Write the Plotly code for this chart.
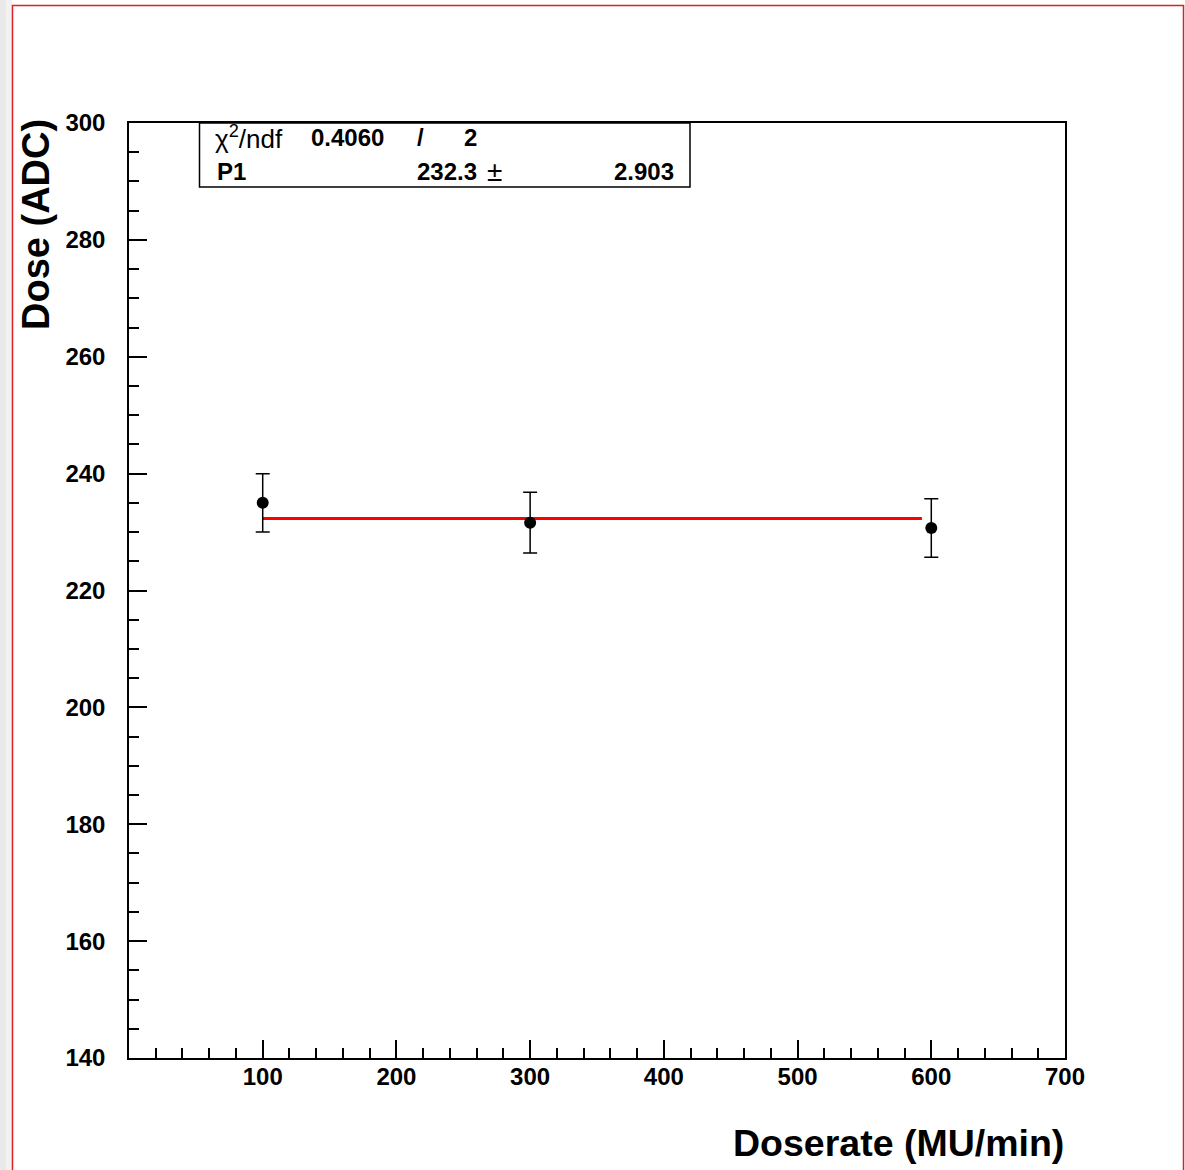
import plotly.graph_objects as go

# ---- data ----
doserate = [100, 300, 600]
dose = [235.0, 231.6, 230.7]
dose_err = [5.0, 5.2, 5.0]
fit_x = [100, 593]
fit_p1 = 232.3
fit_p1_err = 2.903
chi2 = 0.4060
ndf = 2
x_ticks = [100, 200, 300, 400, 500, 600, 700]
y_ticks = [140, 160, 180, 200, 220, 240, 260, 280, 300]

W, H = 1185, 1170
L, R, T, B = 129, 1065, 123, 1058  # plot area in px


def px(x):
    return (x - L) / (R - L)


def py(y):
    return (B - y) / (B - T)


FONT = "Liberation Sans, Arial, Helvetica, sans-serif"

fig = go.Figure()
fig.add_trace(go.Scatter(
    x=fit_x, y=[fit_p1] * len(fit_x), mode="lines",
    line=dict(color="#ff0000", width=3), showlegend=False, hoverinfo="skip"))
fig.add_trace(go.Scatter(
    x=doserate, y=dose, mode="markers",
    marker=dict(color="black", size=12, symbol="circle"),
    error_y=dict(type="data", array=dose_err, visible=True, color="black",
                 thickness=1.5, width=7),
    showlegend=False))

axis_common = dict(
    showgrid=False, zeroline=False, showline=True, linecolor="black",
    linewidth=1.5, mirror=True, ticks="inside", ticklen=18, tickwidth=1.5,
    tickcolor="black",
    tickfont=dict(family=FONT, size=24, color="black", weight="bold"),
)

fig.update_xaxes(range=[0, 700], tickvals=x_ticks, ticklabelstandoff=-4,
                 minor=dict(ticks="inside", ticklen=10, dtick=20, tick0=0,
                            tickwidth=1.5, tickcolor="black", showgrid=False),
                 **axis_common)
fig.update_yaxes(range=[140, 300], tickvals=y_ticks, ticklabelstandoff=17,
                 minor=dict(ticks="inside", ticklen=10, dtick=5, tick0=140,
                            tickwidth=1.5, tickcolor="black", showgrid=False),
                 **axis_common)

shapes = [
    # left shadow
    dict(type="rect", xref="paper", yref="paper", x0=px(0), x1=px(12),
         y0=py(1200), y1=py(-10), fillcolor="#f2f2f2", line=dict(width=0),
         layer="below"),
    dict(type="rect", xref="paper", yref="paper", x0=px(0), x1=px(6),
         y0=py(1200), y1=py(-10), fillcolor="#e9e9e9", line=dict(width=0),
         layer="below"),
    # red frame
    dict(type="rect", xref="paper", yref="paper", x0=px(12.5), x1=px(1183.5),
         y0=py(1250), y1=py(5.5), line=dict(color="#dc1f26", width=1.5),
         fillcolor="rgba(0,0,0,0)"),
    # stats box
    dict(type="rect", xref="paper", yref="paper", x0=px(199.5), x1=px(690),
         y0=py(187), y1=py(123), line=dict(color="black", width=1.5),
         fillcolor="white"),
]

ann = []


def txt(t, x, y, xanchor="left", size=24, bold=True):
    ann.append(dict(text=t, x=px(x), y=py(y), xref="paper", yref="paper",
                    xanchor=xanchor, yanchor="middle", showarrow=False,
                    font=dict(family=FONT, size=size, color="black",
                              weight="bold" if bold else "normal")))


txt("χ<sup>2</sup>/ndf", 213, 138, size=26, bold=False)
txt(f"{chi2:.4f}", 309, 138)
txt("/", 420, 138, xanchor="center")
txt(f"{ndf}", 470, 138, xanchor="center")
txt("P1", 215, 171)
txt(f"{fit_p1:.1f}", 415, 171)
txt("±", 494, 171, xanchor="center", size=28, bold=False)
txt(f"{fit_p1_err:.3f}", 676, 171, xanchor="right")

ann.append(dict(text="Doserate (MU/min)", x=px(1066), y=py(1143),
                xref="paper", yref="paper", xanchor="right",
                yanchor="middle", showarrow=False,
                font=dict(family=FONT, size=37.5, color="black",
                          weight="bold")))
ann.append(dict(text="Dose (ADC)", x=px(36), y=py(225), xref="paper",
                yref="paper", xanchor="center", yanchor="middle",
                textangle=-90, showarrow=False,
                font=dict(family=FONT, size=38, color="black", weight="bold")))

fig.update_layout(
    width=W, height=H, autosize=False,
    margin=dict(l=L, r=W - R, t=T, b=H - B, pad=0),
    paper_bgcolor="white", plot_bgcolor="white",
    shapes=shapes, annotations=ann, showlegend=False,
)

fig.write_html("out.html")
